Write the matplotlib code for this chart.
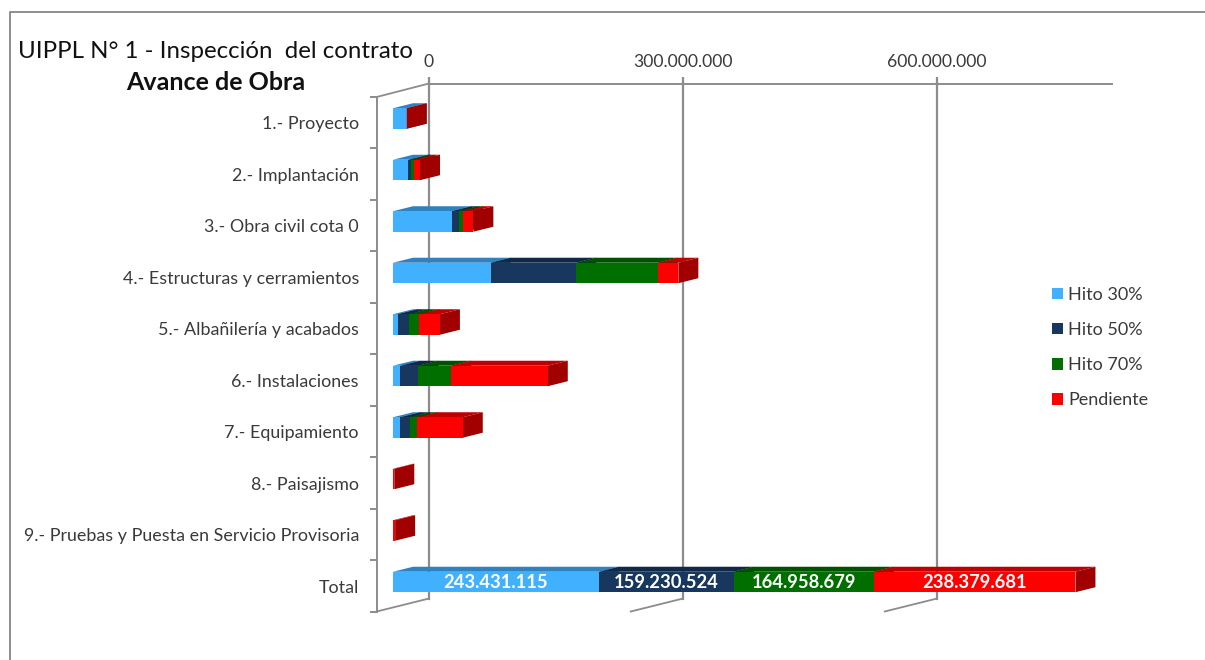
import matplotlib
matplotlib.use("Agg")
import matplotlib.pyplot as plt
from matplotlib.patches import Polygon, Patch
from matplotlib.lines import Line2D

categories = ["1.- Proyecto", "2.- Implantación", "3.- Obra civil cota 0",
              "4.- Estructuras y cerramientos", "5.- Albañilería y acabados",
              "6.- Instalaciones", "7.- Equipamiento", "8.- Paisajismo",
              "9.- Pruebas y Puesta en Servicio Provisoria", "Total"]
hito30 = [16.0e6, 18.1e6, 69.3e6, 115.4e6, 5.5e6, 8.7e6, 8.7e6, 0, 0, 243431115]
hito50 = [0, 2.8e6, 8.3e6, 101.1e6, 13.0e6, 21.3e6, 11.4e6, 0, 0, 159230524]
hito70 = [0, 4.3e6, 5.1e6, 96.1e6, 12.5e6, 38.6e6, 8.7e6, 0, 0, 164958679]
pendiente = [0.3e6, 6.7e6, 12.2e6, 24.4e6, 24.4e6, 114.2e6, 53.6e6, 1.5e6, 2.5e6, 238379681]
series_names = ["Hito 30%", "Hito 50%", "Hito 70%", "Pendiente"]
x_ticks = [0, 300000000, 600000000]
x_tick_labels = ["0", "300.000.000", "600.000.000"]

front_colors = ["#40B0FF", "#17375E", "#006F00", "#FF0000"]
top_colors = ["#2F82BF", "#102946", "#005200", "#BF0000"]
side_colors = ["#2A72A8", "#0D2238", "#004400", "#A00000"]
GREY = "#8C8C8C"
TXT = "#3A3A3A"
FONT = "Lato"
plt.rcParams["font.family"] = [FONT, "DejaVu Sans"]

W, H = 1205, 660
fig = plt.figure(figsize=(W / 100, H / 100), dpi=100, facecolor="white")

# pixel layout of the plot box
L, R, T, B = 376.7, 1112, 83.5, 612
X0, K = 393.0, 0.8467e-6      # pixel of value 0 on the front plane, pixels per unit
Y0, DY = 123.0, 51.55         # pixel of first category, pixels per category
ax = fig.add_axes([L / W, 1 - B / H, (R - L) / W, (B - T) / H])
ax.set_xlim((L - X0) / K, (R - X0) / K)
ax.set_ylim((B - Y0) / DY, (T - Y0) / DY)
ax.patch.set_alpha(0)

px_x = 1 / K
px_y = 1 / DY
depth_x, depth_y = 20 * px_x, -5 * px_y       # bar depth
wall_x = 36 * px_x                            # back plane position for value 0
bar_h = 20.5 * px_y
bar_shift = -4.5 * px_y

# back plane
floor_y = (599 - Y0) / DY
top_y = (T - Y0) / DY
wall_bottom = (B - Y0) / DY
wall_dx = 52.3 * px_x
for v in x_ticks:
    ax.plot([v + wall_x, v + wall_x], [top_y, floor_y], color=GREY, lw=1.6, zorder=1, clip_on=False)
    ax.plot([v + wall_x, v + wall_x - wall_dx], [floor_y, wall_bottom], color=GREY, lw=1.3, zorder=1, clip_on=False)
ax.plot([wall_x, wall_x - wall_dx], [top_y, (97 - Y0) / DY], color=GREY, lw=1.3, zorder=1, clip_on=False)

for s in ("right", "bottom"):
    ax.spines[s].set_visible(False)
ax.spines["top"].set_color(GREY)
ax.spines["top"].set_linewidth(1.4)
ax.spines["top"].set_bounds(wall_x, ax.get_xlim()[1])
ax.spines["left"].set_color(GREY)
ax.spines["left"].set_linewidth(1.4)
ax.spines["left"].set_bounds((97 - Y0) / DY, wall_bottom)

# stacked 3D-looking bars, painted left to right
rows = range(len(categories))
all_series = [hito30, hito50, hito70, pendiente]
for r in rows:
    left = 0
    yc = r + bar_shift
    ytop, ybot = yc - bar_h / 2, yc + bar_h / 2
    for i, vals in enumerate(all_series):
        v = vals[r]
        if v == 0:
            continue
        right = left + v
        ax.add_patch(Polygon([(left, ytop), (right, ytop), (right + depth_x, ytop + depth_y),
                              (left + depth_x, ytop + depth_y)], closed=True,
                             fc=top_colors[i], ec="none", zorder=3 + i * 0.1))
        ax.add_patch(Polygon([(right, ytop), (right + depth_x, ytop + depth_y),
                              (right + depth_x, ybot + depth_y), (right, ybot)], closed=True,
                             fc=side_colors[i], ec="none", zorder=3 + i * 0.1))
        ax.barh(yc, v, left=left, height=bar_h, color=front_colors[i], edgecolor="none",
                zorder=3.05 + i * 0.1)
        if categories[r] == "Total":
            ax.text(left + v / 2, yc + 1.0 * px_y, f"{v:,}".replace(",", "."), ha="center", va="center",
                    color="white", fontsize=13.2, fontweight="bold", zorder=6)
        left = right

# axes ticks
ax.set_yticks(list(rows), categories, fontsize=12.85, color=TXT)
ax.tick_params(axis="y", which="major", length=0, pad=12.8)
ax.set_yticks([(97 + DY * j - Y0) / DY for j in range(11)], minor=True)
ax.tick_params(axis="y", which="minor", length=4.8, width=1.4, color=GREY)
ax.set_xticks([])

sec = ax.secondary_xaxis("top", functions=(lambda x: x - wall_x, lambda x: x + wall_x))
sec.set_xticks(x_ticks, x_tick_labels, fontsize=12.6, color=TXT)
sec.tick_params(axis="x", length=4, width=1.6, color=GREY, pad=6)
sec.spines["top"].set_visible(False)

# legend
handles = [Patch(fc=c, ec="none", label=n) for c, n in zip(front_colors, series_names)]
ax.legend(handles=handles, loc="center left", bbox_to_anchor=(1052 / W, 1 - 347.5 / H),
          bbox_transform=fig.transFigure, frameon=False, fontsize=13, labelcolor=TXT,
          handlelength=0.61, handleheight=0.61, handletextpad=0.28, labelspacing=1.06,
          borderpad=0, borderaxespad=0)

# titles and frame
fig.text(18 / W, 1 - 51 / H, "UIPPL N° 1 - Inspección  del contrato", ha="left", va="center",
         fontsize=17.3, color="#111111")
fig.text(215.5 / W, 1 - 83 / H, "Avance de Obra", ha="center", va="center",
         fontsize=18, fontweight="bold", color="#111111")
fig.add_artist(Line2D([10 / W, 10 / W, 1], [0, 1 - 12 / H, 1 - 12 / H], color="#868686", lw=1.3))

fig.savefig("out.png", dpi=100)
